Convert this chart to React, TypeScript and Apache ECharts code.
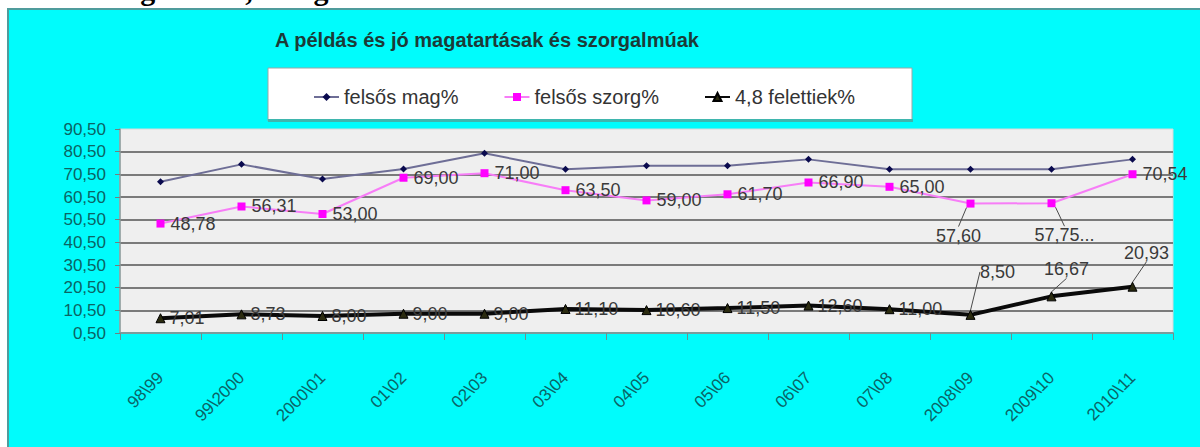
import React, { useEffect, useRef } from "react";
import * as echarts from "echarts";

const categories = ["98\\99", "99\\2000", "2000\\01", "01\\02", "02\\03", "03\\04", "04\\05", "05\\06", "06\\07", "07\\08", "2008\\09", "2009\\10", "2010\\11"];
const magValues = [67.2, 74.9, 68.4, 72.9, 79.8, 72.7, 74.3, 74.3, 77.1, 72.7, 72.7, 72.7, 77.1];
const szorgValues = [48.78, 56.31, 53.0, 69.0, 71.0, 63.5, 59.0, 61.7, 66.9, 65.0, 57.6, 57.75, 70.54];
const szorgLabels = ["48,78", "56,31", "53,00", "69,00", "71,00", "63,50", "59,00", "61,70", "66,90", "65,00", "57,60", "57,75...", "70,54"];
const felettValues = [7.01, 8.73, 8.0, 9.0, 9.0, 11.1, 10.6, 11.5, 12.6, 11.0, 8.5, 16.67, 20.93];
const seriesNames = ["felsős mag%", "felsős szorg%", "4,8 felettiek%"];
const yTickLabels = ["0,50", "10,50", "20,50", "30,50", "40,50", "50,50", "60,50", "70,50", "80,50", "90,50"];

const FONT = '"Liberation Sans", Arial, sans-serif';
const fmt = (v: number) => v.toFixed(2).replace(".", ",");

export default function App() {
  const ref = useRef<HTMLDivElement>(null);
  useEffect(() => {
    if (!ref.current) return;
    const chart = echarts.init(ref.current, null, { renderer: "svg" });

    const szorgMoves: Record<number, [number, number]> = { 10: [-12, 13], 11: [13, 13] };
    const felettMoves: Record<number, [number, number]> = { 10: [27, -25], 11: [15, -9], 12: [14, -16] };

    const labelText = { fontFamily: FONT, fontSize: 18, color: "#3a3a3a" };

    chart.setOption({
      animation: false,
      backgroundColor: "#ffffff",
      graphic: [
        {
          type: "rect",
          z: -5,
          shape: { x: 8, y: 9, width: 1200, height: 450 },
          style: { fill: "#00FCFC", stroke: "#4f9c9c", lineWidth: 2 },
        },
        {
          type: "text",
          z: -4,
          x: 97,
          y: -26,
          style: {
            text: "Magatartás, szorgalom:",
            font: 'bold 30px "Liberation Serif", "Times New Roman", serif',
            fill: "#000",
            verticalAlign: "top",
          },
        },
        {
          type: "rect",
          z: -3,
          shape: { x: 268, y: 68, width: 644, height: 53 },
          style: { fill: "#ffffff", stroke: "#9aa6a6", lineWidth: 1 },
        },
        {
          type: "rect",
          z: -3,
          shape: { x: 268, y: 119, width: 645, height: 3 },
          style: { fill: "#3fb6ae" },
        },
      ],
      title: {
        text: "A példás és jó magatartásak és szorgalmúak",
        left: 275,
        top: 30,
        padding: 0,
        textStyle: { fontFamily: FONT, fontSize: 20, fontWeight: "bold", color: "#1c3a37" },
      },
      legend: {
        data: seriesNames,
        left: 313,
        top: 87,
        padding: 0,
        itemGap: 45,
        itemWidth: 25,
        itemHeight: 10,
        textStyle: { fontFamily: FONT, fontSize: 20, color: "#333" },
      },
      grid: {
        left: 120,
        right: 27,
        top: 129,
        bottom: 114,
        show: true,
        backgroundColor: "#EFEFEF",
        borderColor: "#d4dada",
        borderWidth: 1,
      },
      xAxis: {
        type: "category",
        data: categories,
        boundaryGap: true,
        axisLine: { onZero: false, lineStyle: { color: "#7a9c9c", width: 2 } },
        axisTick: { show: true, length: 7, lineStyle: { color: "#6f8f8f", width: 1 } },
        axisLabel: {
          rotate: 45,
          margin: 42,
          interval: 0,
          fontFamily: FONT,
          fontSize: 17,
          color: "#0b6466",
        },
      },
      yAxis: [
        {
          type: "value",
          min: 0,
          max: 90,
          interval: 10,
          axisLine: { show: true, lineStyle: { color: "#8a9a9a", width: 1.5 } },
          axisTick: { show: true, length: 5, lineStyle: { color: "#6f8080" } },
          axisLabel: {
            margin: 14,
            fontFamily: FONT,
            fontSize: 17,
            color: "#0b6464",
            formatter: (v: number) => yTickLabels[Math.round(v / 10)],
          },
          splitLine: {
            show: true,
            showMinLine: false,
            showMaxLine: false,
            lineStyle: { color: "#7a7a7a", width: 2 },
          },
        },
        {
          type: "value",
          min: 0.5,
          max: 90.5,
          show: false,
          splitLine: { show: false },
        },
      ],
      series: [
        {
          name: seriesNames[0],
          type: "line",
          yAxisIndex: 1,
          data: magValues,
          symbol: "diamond",
          symbolSize: 7,
          lineStyle: { color: "#6e6e96", width: 2 },
          itemStyle: { color: "#0a0a4e" },
          label: { show: false },
          z: 3,
        },
        {
          name: seriesNames[1],
          type: "line",
          yAxisIndex: 1,
          data: szorgValues.map((v, i) =>
            szorgMoves[i]
              ? { value: v, label: { position: "bottom" }, labelLine: { show: true } }
              : { value: v }
          ),
          symbol: "rect",
          symbolSize: 8,
          lineStyle: { color: "#f77df7", width: 2 },
          itemStyle: { color: "#ff00ff" },
          label: {
            show: true,
            position: "right",
            distance: 6,
            ...labelText,
            formatter: (p: any) => szorgLabels[p.dataIndex],
          },
          labelLine: { show: false, lineStyle: { color: "#4a4a4a", width: 1 } },
          labelLayout: (p: any) => {
            const m = szorgMoves[p.dataIndex];
            return m ? { dx: m[0], dy: m[1], hideOverlap: false } : { hideOverlap: false };
          },
          z: 4,
        },
        {
          name: seriesNames[2],
          type: "line",
          yAxisIndex: 1,
          data: felettValues.map((v, i) =>
            felettMoves[i]
              ? { value: v, label: { position: "top" }, labelLine: { show: true } }
              : { value: v }
          ),
          symbol: "triangle",
          symbolSize: 9,
          lineStyle: { color: "#0a0a0a", width: 4 },
          itemStyle: { color: "#2b2b10", borderColor: "#000", borderWidth: 1 },
          label: {
            show: true,
            position: "right",
            distance: 4,
            ...labelText,
            formatter: (p: any) => fmt(felettValues[p.dataIndex]),
          },
          labelLine: { show: false, lineStyle: { color: "#4a4a4a", width: 1 } },
          labelLayout: (p: any) => {
            const m = felettMoves[p.dataIndex];
            return m ? { dx: m[0], dy: m[1], hideOverlap: false } : { hideOverlap: false };
          },
          z: 5,
        },
      ],
    });

    return () => chart.dispose();
  }, []);

  return (
    <div
      ref={ref}
      style={{ position: "fixed", left: 0, top: 0, width: 1200, height: 447 }}
    />
  );
}
